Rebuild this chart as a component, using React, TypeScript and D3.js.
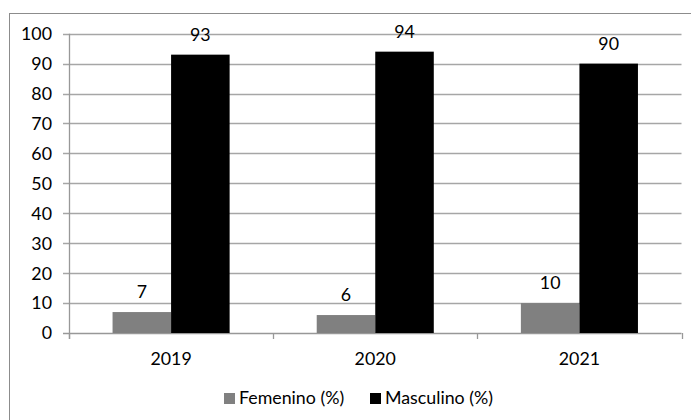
import React from "react";
import * as d3 from "d3";

// Share of enrolment by sex, per year
const years = ["2019", "2020", "2021"];
const seriesNames = ["Femenino (%)", "Masculino (%)"];
const femenino = [7, 6, 10];
const masculino = [93, 94, 90];
const yTicks = [0, 10, 20, 30, 40, 50, 60, 70, 80, 90, 100];
const seriesColors = ["#808080", "#000000"];

const W = 691;
const H = 420;
const FONT = "Lato, 'Open Sans', sans-serif";
const FS = 17.8;

export default function App() {
  const plotLeft = 69;
  const plotRight = 681.5;
  const plotTop = 33.7;
  const plotBottom = 333;

  const x0 = d3.scaleBand<string>().domain(years).range([plotLeft, plotRight]).padding(0);
  const x1 = d3
    .scaleBand<string>()
    .domain(seriesNames)
    .range([0, x0.bandwidth()])
    .paddingInner(0)
    .paddingOuter(0.744);
  const y = d3.scaleLinear().domain([0, 100]).range([plotBottom, plotTop]);

  const series = [femenino, masculino];
  const gridColor = "#a6a6a6";
  const axisColor = "#989898";

  // category tick boundaries
  const boundaries = [...years.map((yr) => x0(yr) as number), plotRight];

  const legendX = [224, 370];

  return (
    <svg
      width={W}
      height={H}
      style={{ position: "absolute", left: 0, top: 0, background: "#fff" }}
      fontFamily={FONT}
    >
      <rect x={0} y={0} width={W} height={H} fill="#fff" />
      {/* chart frame */}
      <rect x={9.5} y={13.5} width={W + 20} height={H + 20} fill="none" stroke="#8c8c8c" />

      {/* gridlines + y ticks */}
      {yTicks.map((t) => (
        <g key={t}>
          <line
            x1={plotLeft - 6}
            x2={plotRight}
            y1={Math.round(y(t)) + 0.5}
            y2={Math.round(y(t)) + 0.5}
            stroke={t === 0 ? axisColor : gridColor}
            strokeWidth={1.3}
          />
          <text
            x={52}
            y={y(t)}
            dy="0.36em"
            textAnchor="end"
            fontSize={FS}
            fill="#000"
          >
            {t}
          </text>
        </g>
      ))}

      {/* y axis line */}
      <line
        x1={plotLeft + 0.5}
        x2={plotLeft + 0.5}
        y1={plotTop}
        y2={plotBottom + 6}
        stroke={axisColor}
        strokeWidth={1.3}
      />

      {/* category tick marks */}
      {boundaries.map((b, i) => (
        <line
          key={i}
          x1={Math.round(b) + 0.5}
          x2={Math.round(b) + 0.5}
          y1={plotBottom}
          y2={plotBottom + 6}
          stroke={axisColor}
          strokeWidth={1.3}
        />
      ))}

      {/* bars */}
      {years.map((yr, i) => (
        <g key={yr} transform={`translate(${x0(yr)},0)`}>
          {series.map((vals, s) => (
            <rect
              key={s}
              x={x1(seriesNames[s])}
              y={y(vals[i])}
              width={x1.bandwidth()}
              height={y(0) - y(vals[i])}
              fill={seriesColors[s]}
            />
          ))}
          {series.map((vals, s) => (
            <text
              key={"l" + s}
              x={(x1(seriesNames[s]) as number) + x1.bandwidth() / 2}
              y={y(vals[i]) - 14}
              textAnchor="middle"
              fontSize={FS}
              fill="#000"
            >
              {vals[i]}
            </text>
          ))}
          <text
            x={x0.bandwidth() / 2}
            y={365}
            textAnchor="middle"
            fontSize={FS}
            fill="#000"
          >
            {yr}
          </text>
        </g>
      ))}

      {/* legend */}
      {seriesNames.map((name, s) => (
        <g key={name} transform={`translate(${legendX[s]},0)`}>
          <rect x={0} y={393} width={11} height={11} fill={seriesColors[s]} />
          <text x={15} y={404} fontSize={FS} fill="#000">
            {name}
          </text>
        </g>
      ))}
    </svg>
  );
}
